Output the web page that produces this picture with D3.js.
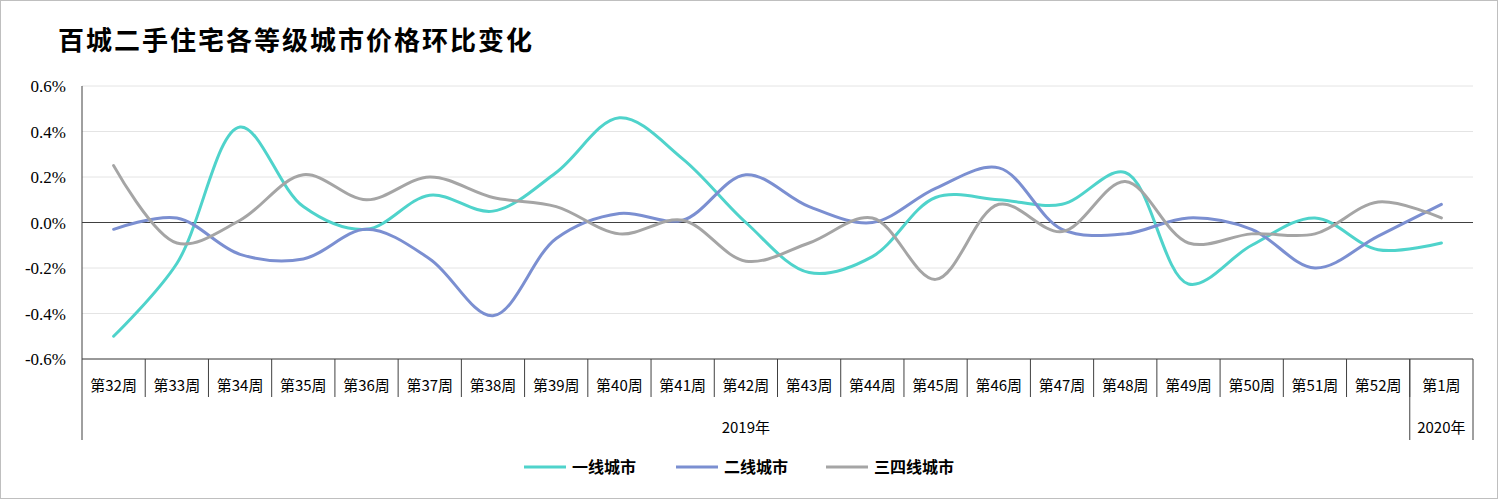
<!DOCTYPE html>
<html><head><meta charset="utf-8">
<script src="https://cdn.jsdelivr.net/npm/d3@7"></script>
<style>body{margin:0;background:#fff}</style></head>
<body><svg id="c" width="1498" height="499"></svg>
<script>
const categories=["第32周","第33周","第34周","第35周","第36周","第37周","第38周","第39周","第40周","第41周","第42周","第43周","第44周","第45周","第46周","第47周","第48周","第49周","第50周","第51周","第52周","第1周"];
const years=[{label:"2019年",from:0,to:20},{label:"2020年",from:21,to:21}];
const tier1=[-0.50,-0.18,0.42,0.07,-0.03,0.12,0.05,0.22,0.46,0.28,0.00,-0.22,-0.15,0.11,0.10,0.08,0.22,-0.27,-0.10,0.02,-0.12,-0.09];
const tier2=[-0.03,0.02,-0.14,-0.16,-0.03,-0.16,-0.41,-0.07,0.04,0.01,0.21,0.07,0.00,0.15,0.24,-0.03,-0.05,0.02,-0.03,-0.20,-0.06,0.08];
const tier34=[0.25,-0.09,0.01,0.21,0.10,0.20,0.11,0.07,-0.05,0.01,-0.17,-0.09,0.02,-0.25,0.08,-0.04,0.18,-0.09,-0.05,-0.05,0.09,0.02];
const yTicks=[-0.6,-0.4,-0.2,0,0.2,0.4,0.6];
const seriesNames=["一线城市","二线城市","三四线城市"];
const colors=["#4fd3cb","#7b8fd1","#a5a5a5"];
const svg=d3.select("#c");
svg.append("rect").attr("x",0.5).attr("y",0.5).attr("width",1497).attr("height",498).attr("fill","#fff").attr("stroke","#bfbfbf");
svg.append("text").attr("x",58).attr("y",50).text("百城二手住宅各等级城市价格环比变化").attr("font-family","Noto Sans CJK SC").attr("font-weight","bold").attr("font-size",26).attr("letter-spacing",2);
const L=82,R=1473,T=86,B=359;
const x=d3.scaleBand().domain(categories).range([L,R]);
const y=d3.scaleLinear().domain([-0.6,0.6]).range([B,T]);
const g=svg.append("g");
yTicks.forEach(t=>{
 g.append("line").attr("x1",L).attr("x2",R).attr("y1",y(t)).attr("y2",y(t)).attr("stroke",t===0?"#404040":"#e4e4e4").attr("stroke-width",1);
 g.append("text").attr("x",L-16).attr("y",y(t)+6).attr("text-anchor","end").attr("font-family","Liberation Serif").attr("font-size",17).text(t.toFixed(1)+"%");
});
g.append("line").attr("x1",L).attr("x2",L).attr("y1",T).attr("y2",440).attr("stroke","#404040");
g.append("line").attr("x1",L).attr("x2",R).attr("y1",B).attr("y2",B).attr("stroke","#404040");
categories.forEach((c,i)=>{
 const x0=x(c);
 if(i>0) g.append("line").attr("x1",x0).attr("x2",x0).attr("y1",B).attr("y2",397).attr("stroke","#404040");
 g.append("text").attr("x",x0+x.bandwidth()/2).attr("y",391).attr("text-anchor","middle").attr("font-family","Noto Sans CJK SC").attr("font-size",15).text(c);
});
years.forEach(yr=>{
 const a=x(categories[yr.from]),b=x(categories[yr.to])+x.bandwidth();
 g.append("line").attr("x1",b).attr("x2",b).attr("y1",B).attr("y2",440).attr("stroke","#404040");
 g.append("text").attr("x",(a+b)/2).attr("y",433).attr("text-anchor","middle").attr("font-family","Noto Sans CJK SC").attr("font-size",15).text(yr.label);
});
const line=d3.line().x((d,i)=>x(categories[i])+x.bandwidth()/2).y(d=>y(d)).curve(d3.curveCatmullRom.alpha(0.5));
[tier1,tier2,tier34].forEach((s,k)=>{
 g.append("path").attr("d",line(s)).attr("fill","none").attr("stroke",colors[k]).attr("stroke-width",3).attr("stroke-linecap","round");
});
const lx=[524,676,826];
seriesNames.forEach((n,k)=>{
 svg.append("line").attr("x1",lx[k]).attr("x2",lx[k]+42).attr("y1",467).attr("y2",467).attr("stroke",colors[k]).attr("stroke-width",3);
 svg.append("text").attr("x",lx[k]+48).attr("y",473).attr("font-family","Noto Sans CJK SC").attr("font-weight","bold").attr("font-size",16).text(n);
});
</script></body></html>
